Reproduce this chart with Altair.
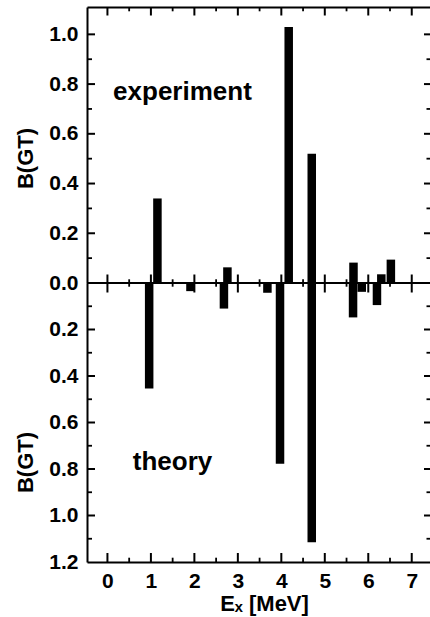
import altair as alt
import pandas as pd

# ---- data ----
exp_E = [1.15, 2.76, 4.17, 4.70, 5.66, 6.30, 6.52]
exp_B = [0.34, 0.063, 1.03, 0.52, 0.082, 0.035, 0.094]
th_E = [0.96, 1.91, 2.68, 3.68, 3.97, 4.70, 5.65, 5.85, 6.20]
th_B = [0.454, 0.035, 0.11, 0.042, 0.777, 1.115, 0.148, 0.038, 0.095]

x_major = [0, 1, 2, 3, 4, 5, 6, 7]
x_minor = [0.5, 1.5, 2.5, 3.5, 4.5, 5.5, 6.5]
ytop_labels = [0.0, 0.2, 0.4, 0.6, 0.8, 1.0]
ytop_major = [0.2, 0.4, 0.6, 0.8, 1.0]
ytop_minor = [0.1, 0.3, 0.5, 0.7, 0.9]
ybot_labels = [0.2, 0.4, 0.6, 0.8, 1.0, 1.2]
ybot_major = [0.2, 0.4, 0.6, 0.8, 1.0]
ybot_minor = [0.1, 0.3, 0.5, 0.7, 0.9, 1.1]

FONT = "Liberation Sans"
W, H, Y0 = 343, 555, 276

xs = alt.Scale(domain=[-0.47, 7.42], nice=False, zero=False, padding=0)
ytop = alt.Scale(domain=[0, 1.11], range=[Y0, 0], nice=False, padding=0)
ybot = alt.Scale(domain=[0, 1.2], range=[Y0, H], nice=False, padding=0)

exp_df = pd.DataFrame({"E": exp_E, "B": exp_B})
th_df = pd.DataFrame({"E": th_E, "B": th_B})
one = pd.DataFrame({"a": [0]})


def vals(v):
    return pd.DataFrame({"v": v})


lab_axis = dict(labelFont=FONT, labelFontSize=21, labelFontWeight="bold", labelColor="black",
                titleFont=FONT, titleFontSize=22, titleFontWeight="bold", titleColor="black",
                domainColor="black", domainWidth=2, grid=False)

top_bars = alt.Chart(exp_df).mark_bar(size=8.5, color="black").encode(
    x=alt.X("E:Q", scale=xs, axis=alt.Axis(orient="top", labels=False, ticks=False, title=None,
                                           grid=False, domain=True, domainColor="black", domainWidth=2)),
    y=alt.Y("B:Q", scale=ytop, axis=alt.Axis(orient="left", values=ytop_labels, format=".1f",
                                             ticks=False, labelPadding=9, title="B(GT)",
                                             titleX=-62, titleY=151, titleAngle=-90,
                                             titleBaseline="middle", titleAlign="center", **lab_axis)),
)

bot_bars = alt.Chart(th_df).mark_bar(size=8.5, color="black").encode(
    x=alt.X("E:Q", scale=xs, axis=alt.Axis(orient="bottom", values=x_major, format="d", ticks=False,
                                           labelPadding=8, title="Eₓ [MeV]", titleX=177, titleY=48,
                                           titleBaseline="alphabetic", titleAlign="center", **lab_axis)),
    y=alt.Y("B:Q", scale=ybot, axis=alt.Axis(orient="left", values=ybot_labels, format=".1f",
                                             ticks=False, labelPadding=9, title="B(GT)",
                                             titleX=-62, titleY=455, titleAngle=-90,
                                             titleBaseline="middle", titleAlign="center", **lab_axis)),
)

zero_line = alt.Chart(one).mark_rule(color="black", strokeWidth=2).encode(
    y=alt.Y(datum=0, scale=ytop, axis=None),
    x=alt.value(0), x2=alt.value(W),
)


def xticks_zero(v, up, down, sw):
    return alt.Chart(vals(v)).mark_rule(color="black", strokeWidth=sw, yOffset=-up, y2Offset=down).encode(
        x=alt.X("v:Q", scale=xs, axis=None),
        y=alt.Y(datum=0, scale=ytop, axis=None),
        y2=alt.Y2(datum=0),
    )


def xticks_px(v, y1, y2, sw):
    return alt.Chart(vals(v)).mark_rule(color="black", strokeWidth=sw).encode(
        x=alt.X("v:Q", scale=xs, axis=None),
        y=alt.value(y1), y2=alt.value(y2),
    )


def yticks_px(v, scale, x1, x2, sw):
    return alt.Chart(vals(v)).mark_rule(color="black", strokeWidth=sw).encode(
        y=alt.Y("v:Q", scale=scale, axis=None),
        x=alt.value(x1), x2=alt.value(x2),
    )


tick_layers = [
    xticks_zero(x_major, 8.5, 9.5, 2),
    xticks_zero(x_minor, 3.7, 3.7, 1.8),
    xticks_px(x_major, 0, 8.5, 2),
    xticks_px(x_minor, 0, 4.3, 1.8),
    xticks_px(x_major, H, H - 9, 2),
    xticks_px(x_minor, H, H - 4.3, 1.8),
    yticks_px(ytop_major, ytop, 0, 8, 2),
    yticks_px(ytop_minor, ytop, 0, 5, 1.8),
    yticks_px(ybot_major, ybot, 0, 8, 2),
    yticks_px(ybot_minor, ybot, 0, 5, 1.8),
    yticks_px(ytop_major, ytop, W, W - 6, 2),
    yticks_px(ytop_minor, ytop, W, W - 3.5, 1.8),
    yticks_px(ybot_major, ybot, W, W - 6, 2),
    yticks_px(ybot_minor, ybot, W, W - 3.5, 1.8),
]

txt_exp = alt.Chart(one).mark_text(text="experiment", font=FONT, fontSize=26, fontWeight="bold",
                                   align="left", baseline="alphabetic", color="black").encode(
    x=alt.X(datum=0.13, scale=xs, axis=None),
    y=alt.Y(datum=0.735, scale=ytop, axis=None),
)
txt_th = alt.Chart(one).mark_text(text="theory", font=FONT, fontSize=26, fontWeight="bold",
                                  align="left", baseline="alphabetic", color="black").encode(
    x=alt.X(datum=0.584, scale=xs, axis=None),
    y=alt.Y(datum=0.806, scale=ybot, axis=None),
)

chart = alt.layer(top_bars, bot_bars, zero_line, *tick_layers, txt_exp, txt_th).resolve_scale(
    y="independent", x="shared"
).resolve_axis(
    x="independent", y="independent"
).properties(
    width=W, height=H,
    padding={"left": 87, "top": 7, "right": 0, "bottom": 55},
    autosize=alt.AutoSizeParams(type="none"),
    background="white",
).configure_view(stroke=None).configure_axis(grid=False)

chart.save("out.html", embed_options={"renderer": "svg", "actions": False})
